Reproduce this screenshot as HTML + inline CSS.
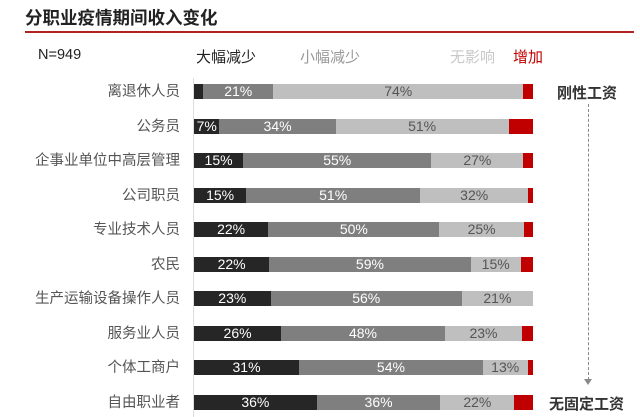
<!DOCTYPE html>
<html><head><meta charset="utf-8"><style>
*{margin:0;padding:0;box-sizing:border-box}
body{width:640px;height:417px;background:#fff;position:relative;overflow:hidden;font-family:"Liberation Sans","Noto Sans CJK SC",sans-serif}
.t{position:absolute;white-space:nowrap}
.lab{position:absolute;right:460px;font-size:14.5px;color:#555;line-height:16px}
.bar{position:absolute;left:194px;width:339px;height:15px;display:flex}
.bar div{height:15px;font-size:14px;line-height:15px;text-align:center;overflow:hidden;white-space:nowrap}
.d{background:#262626;color:#fff}.m{background:#7f7f7f;color:#fff}.l{background:#bfbfbf;color:#555}.r{background:#c00000}
</style></head><body>
<div class="t" style="left:25px;top:5px;font-size:17.5px;font-weight:bold;color:#222">分职业疫情期间收入变化</div>
<div style="position:absolute;left:25px;top:31px;width:609px;height:2px;background:#b22222"></div>
<div class="t" style="left:38px;top:47px;font-size:14.5px;color:#222">N=949</div>
<div class="t" style="left:196px;top:46px;font-size:15px;color:#222">大幅减少</div>
<div class="t" style="left:300px;top:46px;font-size:15px;color:#999">小幅减少</div>
<div class="t" style="left:450px;top:46px;font-size:15px;color:#c8c8c8">无影响</div>
<div class="t" style="left:513px;top:46px;font-size:15px;color:#c00000">增加</div>
<div style="position:absolute;left:193px;top:78px;width:1px;height:339px;background:#ddd"></div>

<div class="lab" style="top:84px">离退休人员</div>
<div class="bar" style="top:84px"><div class="d" style="width:2.8%"></div><div class="m" style="width:20.5%">21%</div><div class="l" style="width:73.9%">74%</div><div class="r" style="width:2.8%"></div></div>
<div class="lab" style="top:119px">公务员</div>
<div class="bar" style="top:119px"><div class="d" style="width:7.5%">7%</div><div class="m" style="width:34.3%">34%</div><div class="l" style="width:51%">51%</div><div class="r" style="width:7.2%"></div></div>
<div class="lab" style="top:153px">企事业单位中高层管理</div>
<div class="bar" style="top:153px"><div class="d" style="width:14.5%">15%</div><div class="m" style="width:55.5%">55%</div><div class="l" style="width:27.2%">27%</div><div class="r" style="width:2.8%"></div></div>
<div class="lab" style="top:188px">公司职员</div>
<div class="bar" style="top:188px"><div class="d" style="width:15.4%">15%</div><div class="m" style="width:51.3%">51%</div><div class="l" style="width:31.9%">32%</div><div class="r" style="width:1.4%"></div></div>
<div class="lab" style="top:222px">专业技术人员</div>
<div class="bar" style="top:222px"><div class="d" style="width:21.9%">22%</div><div class="m" style="width:50.5%">50%</div><div class="l" style="width:24.9%">25%</div><div class="r" style="width:2.7%"></div></div>
<div class="lab" style="top:257px">农民</div>
<div class="bar" style="top:257px"><div class="d" style="width:22.2%">22%</div><div class="m" style="width:59.4%">59%</div><div class="l" style="width:14.8%">15%</div><div class="r" style="width:3.6%"></div></div>
<div class="lab" style="top:291px">生产运输设备操作人员</div>
<div class="bar" style="top:291px"><div class="d" style="width:22.6%">23%</div><div class="m" style="width:56.4%">56%</div><div class="l" style="width:21%">21%</div></div>
<div class="lab" style="top:326px">服务业人员</div>
<div class="bar" style="top:326px"><div class="d" style="width:25.7%">26%</div><div class="m" style="width:48.3%">48%</div><div class="l" style="width:22.8%">23%</div><div class="r" style="width:3.2%"></div></div>
<div class="lab" style="top:360px">个体工商户</div>
<div class="bar" style="top:360px"><div class="d" style="width:31%">31%</div><div class="m" style="width:54.2%">54%</div><div class="l" style="width:13.2%">13%</div><div class="r" style="width:1.6%"></div></div>
<div class="lab" style="top:395px">自由职业者</div>
<div class="bar" style="top:395px"><div class="d" style="width:36.2%">36%</div><div class="m" style="width:36.5%">36%</div><div class="l" style="width:21.8%">22%</div><div class="r" style="width:5.5%"></div></div>

<div class="t" style="left:557px;top:82px;font-size:15px;font-weight:bold;color:#333">刚性工资</div>
<div style="position:absolute;left:588px;top:104px;width:0;height:276px;border-left:1px dashed #888"></div>
<div style="position:absolute;left:584px;top:379px;width:0;height:0;border-left:4px solid transparent;border-right:4px solid transparent;border-top:6px solid #888"></div>
<div class="t" style="left:549px;top:393px;font-size:15px;font-weight:bold;color:#333">无固定工资</div>
</body></html>
